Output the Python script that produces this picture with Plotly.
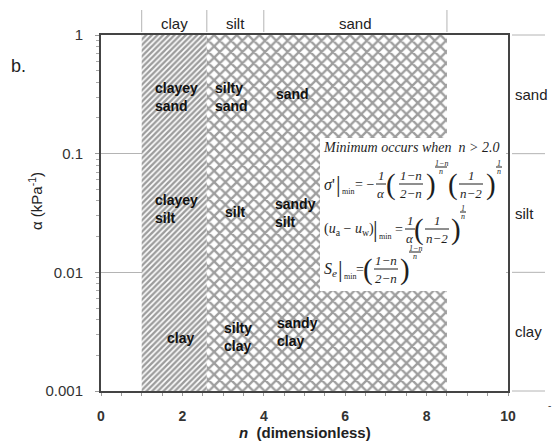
import numpy as np
import plotly.graph_objects as go

# ---- data -----------------------------------------------------------------
# texture classes along n (boundaries) and their names
n_bounds = [1.0, 2.6, 4.0, 8.5]
n_class_names = ["clay", "silt", "sand"]

# alpha axis limits and texture classes along alpha
alpha_limits = [0.001, 1.0]
alpha_bounds = [0.001, 0.01, 0.1, 1.0]
alpha_class_names = ["clay", "silt", "sand"]

# axis ticks
x_tickvals = [0, 2, 4, 6, 8, 10]
y_tickvals = [0.001, 0.01, 0.1, 1]
y_ticktext = ["0.001", "0.01", "0.1", "1"]

# combined soil-type labels inside the chart (left edge n, centre alpha)
region_text = ["clayey<br>sand", "silty<br>sand", "sand",
               "clayey<br>silt", "silt", "sandy<br>silt",
               "clay", "silty<br>clay", "sandy<br>clay"]
region_n = [1.28, 2.75, 4.25, 1.28, 3.0, 4.23, 1.57, 2.97, 4.28]
region_alpha = [0.30, 0.30, 0.32, 0.034, 0.032, 0.0316, 0.0028, 0.00285, 0.00314]

# ---- page geometry --------------------------------------------------------
W, H = 556, 441
ML, MR, MT, MB = 101, 48, 35, 50
PW, PH = W - ML - MR, H - MT - MB

SANS = "Liberation Sans, Arial, sans-serif"
SERIF = "Liberation Serif, Times New Roman, serif"
INK = "#1e1e1e"
AXIS = "#444444"
GRID = "#b4b4b4"


def at(x, y):
    """pixel position on the page -> paper coordinates"""
    return (x - ML) / PW, (H - MB - y) / PH


fig = go.Figure()

# hatched texture regions
lo, hi = alpha_limits
fig.add_trace(go.Scatter(
    x=[n_bounds[0], n_bounds[1], n_bounds[1], n_bounds[0], n_bounds[0]],
    y=[lo, lo, hi, hi, lo], mode="lines", fill="toself",
    line=dict(width=0), fillcolor="white", hoverinfo="skip",
    fillpattern=dict(shape="/", size=4, solidity=0.6,
                     fgcolor="#3a3a3a", bgcolor="white"),
    showlegend=False))
fig.add_trace(go.Scatter(
    x=[n_bounds[1], n_bounds[3], n_bounds[3], n_bounds[1], n_bounds[1]],
    y=[lo, lo, hi, hi, lo], mode="lines", fill="toself",
    line=dict(width=0), fillcolor="white", hoverinfo="skip",
    fillpattern=dict(shape="x", size=8, solidity=0.5,
                     fgcolor="#3e3e3e", bgcolor="white"),
    showlegend=False))

# soil-type labels inside the chart
for t, n, a in zip(region_text, region_n, region_alpha):
    fig.add_annotation(x=n, y=np.log10(a), xref="x", yref="y", text=t,
                       showarrow=False, xanchor="left", yanchor="middle",
                       align="left",
                       font=dict(family=SANS, size=14, color="#111",
                                 weight="bold"))

# class labels above the chart, with separators
for i, name in enumerate(n_class_names):
    fig.add_annotation(x=(n_bounds[i] + n_bounds[i + 1]) / 2, y=at(0, 24)[1],
                       xref="x", yref="paper", text=name, showarrow=False,
                       xanchor="center", yanchor="middle",
                       font=dict(family=SANS, size=15, color="#222"))
for nb in n_bounds:
    fig.add_shape(type="line", xref="x", yref="paper", x0=nb, x1=nb,
                  y0=at(0, 32)[1], y1=at(0, 10)[1],
                  line=dict(color=GRID, width=1))

# class labels on the right, with extended decade lines
span = np.log10(alpha_limits[1]) - np.log10(alpha_limits[0])
def frac_y(a):
    return (np.log10(a) - np.log10(alpha_limits[0])) / span

for i, name in enumerate(alpha_class_names):
    mid = np.sqrt(alpha_bounds[i] * alpha_bounds[i + 1])
    fig.add_annotation(x=at(513, 0)[0], y=frac_y(mid), xref="paper",
                       yref="paper", text=name, showarrow=False,
                       xanchor="left", yanchor="middle",
                       font=dict(family=SANS, size=15, color="#222"))
for a in alpha_bounds:
    fig.add_shape(type="line", xref="paper", yref="paper",
                  x0=at(512, 0)[0], x1=at(545, 0)[0],
                  y0=frac_y(a), y1=frac_y(a), line=dict(color=GRID, width=1))

# ---- formula box ----------------------------------------------------------
bx0, by0 = at(320, 291)
bx1, by1 = at(506, 138)
fig.add_shape(type="rect", xref="paper", yref="paper", x0=bx0, x1=bx1,
              y0=by0, y1=by1, fillcolor="white", line=dict(width=0),
              layer="above")


def txt(s, x, y, size, anchor="center"):
    xp, yp = at(x, y)
    fig.add_annotation(xref="paper", yref="paper", x=xp, y=yp, text=s,
                       showarrow=False, xanchor=anchor, yanchor="middle",
                       borderpad=0, font=dict(family=SERIF, size=size,
                                              color=INK))


def frac(num, den, xc, ybar, size, half_w, gap):
    txt(num, xc, ybar - gap, size)
    txt(den, xc, ybar + gap, size)
    x0, yb = at(xc - half_w, ybar)
    x1, _ = at(xc + half_w, ybar)
    fig.add_shape(type="line", xref="paper", yref="paper", x0=x0, x1=x1,
                  y0=yb, y1=yb, line=dict(color=INK, width=1))


txt("<i>Minimum occurs when  n &gt; 2.0</i>", 322, 147, 14, anchor="left")

# sigma' at its minimum
y1 = 184
txt("<i>σ</i>'", 323, y1, 16, anchor="left")
txt("|", 338, y1, 23)
txt("min", 348, y1 + 7, 8)
txt("= −", 364, y1, 14)
frac("<i>1</i>", "<i>α</i>", 381, y1, 13, 5, 9)
txt("(", 391, y1, 29)
frac("<i>1−n</i>", "<i>2−n</i>", 411, y1, 13, 12, 9)
txt(")", 431, y1, 29)
frac("<i>1−n</i>", "<i>n</i>", 441, y1 - 17, 8, 6, 4)
txt("(", 453, y1, 29)
frac("<i>1</i>", "<i>n−2</i>", 471, y1, 13, 12, 9)
txt(")", 491, y1, 29)
frac("<i>1</i>", "<i>n</i>", 499, y1 - 17, 8, 3, 4)

# suction at the minimum
y2 = 229
txt("(<i>u</i><sub>a</sub> − <i>u</i><sub>w</sub>)", 323, y2, 14, anchor="left")
txt("|", 375, y2, 23)
txt("min", 385, y2 + 7, 8)
txt("=", 399, y2, 14)
frac("<i>1</i>", "<i>α</i>", 410, y2, 13, 5, 9)
txt("(", 419, y2, 29)
frac("<i>1</i>", "<i>n−2</i>", 437, y2, 13, 12, 9)
txt(")", 456, y2, 29)
frac("<i>1</i>", "<i>n</i>", 463, y2 - 17, 8, 3, 4)

# effective saturation at the minimum
y3 = 269
txt("<i>S</i><sub><i>e</i></sub>", 323, y3, 16, anchor="left")
txt("|", 340, y3, 23)
txt("min", 350, y3 + 7, 8)
txt("=", 360, y3, 14)
txt("(", 368, y3, 29)
frac("<i>1−n</i>", "<i>2−n</i>", 386, y3, 13, 12, 9)
txt(")", 405, y3, 29)
frac("<i>1−n</i>", "<i>n</i>", 415, y3 - 17, 8, 6, 4)

# ---- axis titles and panel letter ----------------------------------------
fig.add_annotation(xref="paper", yref="paper", x=0.5, y=at(0, 432)[1],
                   text="<i>n</i>  (dimensionless)", showarrow=False,
                   xanchor="center", yanchor="middle",
                   font=dict(family=SANS, size=15, color="#222",
                             weight="bold"))
fig.add_annotation(xref="paper", yref="paper", x=at(35, 0)[0],
                   y=at(0, 201)[1],
                   text="α (kPa<sup>-1</sup>)", showarrow=False, textangle=-90,
                   xanchor="center", yanchor="middle",
                   font=dict(family=SANS, size=15, color="#222"))
fig.add_annotation(xref="paper", yref="paper", x=at(9, 0)[0], y=at(0, 66)[1],
                   text="b.", showarrow=False, xanchor="left",
                   yanchor="middle",
                   font=dict(family=SANS, size=18, color="#222"))
fig.add_annotation(xref="paper", yref="paper", x=at(549, 0)[0],
                   y=at(0, 405)[1], text="-", showarrow=False,
                   xanchor="center", yanchor="middle",
                   font=dict(family=SANS, size=10, color="#444"))

# ---- axes -----------------------------------------------------------------
fig.update_xaxes(range=[0, 10], tickvals=x_tickvals, showgrid=False,
                 zeroline=False, showline=True, linecolor=AXIS, linewidth=2,
                 mirror=True, ticks="outside", ticklen=3, tickcolor="#999",
                 ticklabelstandoff=8,
                 minor=dict(dtick=0.5, ticks="outside", ticklen=3,
                            tickcolor="#999", showgrid=False),
                 tickfont=dict(family=SANS, size=14, color="#333",
                               weight="bold"))
fig.update_yaxes(type="log", range=[np.log10(alpha_limits[0]),
                                    np.log10(alpha_limits[1])],
                 tickvals=y_tickvals, ticktext=y_ticktext,
                 showgrid=True, gridcolor=GRID, gridwidth=1, zeroline=False,
                 showline=True, linecolor=AXIS, linewidth=2, mirror=True,
                 ticks="outside", ticklen=4, tickcolor="#999",
                 ticklabelstandoff=9,
                 minor=dict(dtick="D1", ticks="outside", ticklen=3,
                            tickcolor="#aaa", showgrid=False),
                 tickfont=dict(family=SANS, size=15, color="#333"))

fig.update_layout(width=W, height=H,
                  margin=dict(l=ML, r=MR, t=MT, b=MB, pad=0),
                  plot_bgcolor="white", paper_bgcolor="white",
                  showlegend=False)

fig.write_html("out.html")
